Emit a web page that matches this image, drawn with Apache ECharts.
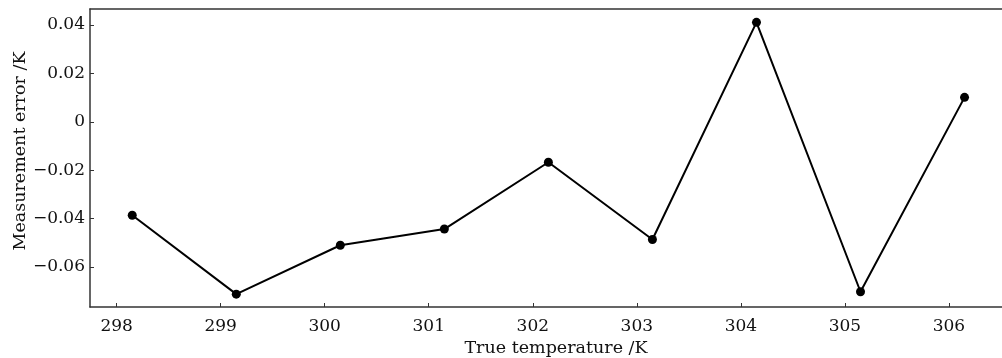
<!DOCTYPE html>
<html>
<head>
<meta charset="utf-8">
<script src="https://cdn.jsdelivr.net/npm/echarts@6/dist/echarts.min.js"></script>
<style>html,body{margin:0;padding:0;background:#fff;}#c{width:1002px;height:358px;}</style>
</head>
<body>
<div id="c"></div>
<script>
const temperatures = [298.15, 299.15, 300.15, 301.15, 302.15, 303.15, 304.15, 305.15, 306.15];
const errors = [-0.0386, -0.0712, -0.0510, -0.0443, -0.0167, -0.0486, 0.0411, -0.0702, 0.0101];
const xTicks = [298, 299, 300, 301, 302, 303, 304, 305, 306];
const yTicks = [-0.06, -0.04, -0.02, 0, 0.02, 0.04];
const yTickLabels = ['\u22120.06', '\u22120.04', '\u22120.02', '0', '0.02', '0.04'];
const xName = 'True temperature /K';
const yName = 'Measurement error /K';

const font = 'DejaVu Serif';
const xMin = 297.744, xMax = 306.51;
const chart = echarts.init(document.getElementById('c'), null, {renderer: 'canvas'});
chart.setOption({
  animation: false,
  backgroundColor: '#fff',
  grid: {left: 90, top: 9, right: 0, bottom: 51, outerBoundsMode: 'none', containLabel: false, show: false},
  xAxis: [{
    type: 'value', min: xMin, max: xMax,
    name: xName, nameLocation: 'middle', nameGap: 32, nameMoveOverlap: false,
    nameTextStyle: {fontFamily: font, fontSize: 17.5, color: '#111', padding: [0, 0, 0, 20]},
    axisLine: {show: true, onZero: false, lineStyle: {color: '#333', width: 1.5}},
    axisTick: {show: true, inside: true, length: 4, lineStyle: {color: '#333'}, customValues: xTicks},
    axisLabel: {fontFamily: font, fontSize: 17, color: '#111', margin: 11, customValues: xTicks, formatter: v => String(Math.round(v))},
    splitLine: {show: false}
  }, {
    type: 'value', position: 'top', min: xMin, max: xMax,
    axisLine: {show: true, onZero: false, lineStyle: {color: '#333', width: 1.5}},
    axisTick: {show: false}, axisLabel: {show: false}, splitLine: {show: false}
  }],
  yAxis: {
    type: 'value', min: -0.0765, max: 0.0466,
    name: yName, nameLocation: 'middle', nameGap: 61, nameMoveOverlap: false,
    nameTextStyle: {fontFamily: font, fontSize: 17.5, color: '#111', padding: [0, 0, 0, 14]},
    axisLine: {show: true, onZero: false, lineStyle: {color: '#333', width: 1.5}},
    axisTick: {show: true, inside: true, length: 4, lineStyle: {color: '#333'}, customValues: yTicks},
    axisLabel: {fontFamily: font, fontSize: 17, color: '#111', margin: 5, customValues: yTicks,
      formatter: v => { let i = yTicks.findIndex(t => Math.abs(t - v) < 1e-6); return i >= 0 ? yTickLabels[i] : ''; }},
    splitLine: {show: false}
  },
  series: [{
    type: 'line',
    xAxisIndex: 0,
    data: temperatures.map((t, i) => [t, errors[i]]),
    symbol: 'circle', symbolSize: 9,
    itemStyle: {color: '#000'},
    lineStyle: {color: '#000', width: 2}
  }]
});
</script>
</body>
</html>
